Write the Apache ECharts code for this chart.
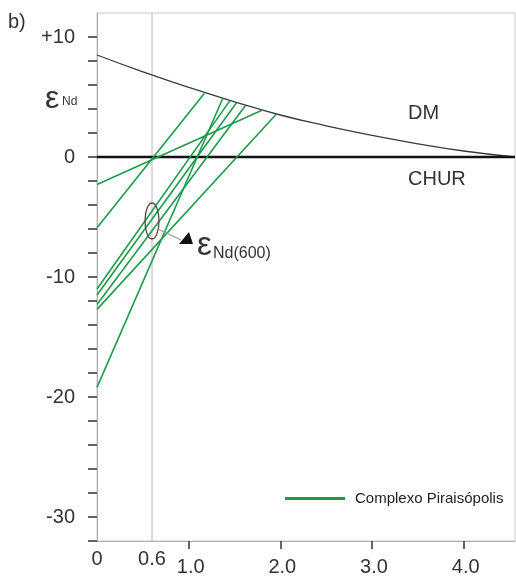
<!DOCTYPE html>
<html>
<head>
<meta charset="utf-8">
<script src="https://cdn.jsdelivr.net/npm/echarts@6/dist/echarts.min.js"></script>
<style>
  html, body { margin: 0; padding: 0; background: #fff; }
  #main { width: 516px; height: 577px; }
</style>
</head>
<body>
<div id="main"></div>
<script>
    // 模式年龄图 (Ga vs εNd)
    var dmAge = [0, 0.5, 1.0, 1.5, 2.0, 2.5, 3.0, 3.5, 4.0, 4.56];
    var dmEps = [8.5, 7.1, 5.8, 4.6, 3.5, 2.6, 1.8, 1.1, 0.5, 0.0];

    // 每个样品: 现今 εNd 与 DM 上的 TDM 点
    var sampleEpsNow = [-2.3, -5.9, -19.2, -11.0, -11.5, -12.3, -12.7];
    var sampleTdm = [1.80, 1.17, 1.37, 1.45, 1.52, 1.62, 1.96];
    var sampleEpsTdm = [3.9, 5.3, 4.85, 4.7, 4.5, 4.3, 3.6];

    var churAge = [0, 4.56];
    var churEps = [0, 0];
    var refAge = 0.6;

    var xLabels = [0, 0.6, 1, 2, 3, 4];
    var xTicks = [1, 2, 3, 4];
    var yLabels = [10, 0, -10, -20, -30];
    var yTicks = [-32, -30, -28, -26, -24, -22, -20, -18, -16, -14, -12, -10, -8, -6, -4, -2, 0, 2, 4, 6, 8, 10];

    var legendName = 'Complexo Piraisópolis';
    var green = '#1e9a4c';
    var font = '"Liberation Sans", Arial, sans-serif';

    var myChart = echarts.init(document.getElementById('main'));

    function zip(a, b) {
        var out = [];
        for (var i = 0; i < a.length; i++) out.push([a[i], b[i]]);
        return out;
    }

    var series = [];
    // 0.6 Ga 参考线
    series.push({
        name: 'ref', type: 'line', symbol: 'none', silent: true,
        data: [[refAge, -32], [refAge, 12]],
        lineStyle: { color: '#b8b8b8', width: 1 }, z: 1
    });
    series.push({
        name: 'DM', type: 'line', symbol: 'none', smooth: true,
        data: zip(dmAge, dmEps),
        lineStyle: { color: '#3a3a3a', width: 1.3 }, z: 3
    });
    series.push({
        name: 'CHUR', type: 'line', symbol: 'none',
        data: zip(churAge, churEps),
        lineStyle: { color: '#111', width: 2.5 }, z: 4
    });
    for (var i = 0; i < sampleEpsNow.length; i++) {
        series.push({
            name: legendName, type: 'line', symbol: 'none',
            data: [[0, sampleEpsNow[i]], [sampleTdm[i], sampleEpsTdm[i]]],
            lineStyle: { color: green, width: 1.6 },
            itemStyle: { color: green }, z: 5
        });
    }

    var option = {
        animation: false,
        textStyle: { fontFamily: font },
        grid: {
            left: 97, top: 13, right: 1, bottom: 34,
            show: true, borderColor: '#c8c8c8', borderWidth: 1
        },
        legend: {
            data: [legendName],
            left: 280, top: 486,
            icon: 'rect', itemWidth: 60, itemHeight: 3,
            textStyle: { fontSize: 15, color: '#222', fontFamily: font, padding: [0, 0, 0, 5] }
        },
        xAxis: {
            type: 'value', min: 0, max: 4.56,
            splitLine: { show: false },
            axisLine: { show: true, onZero: false, lineStyle: { color: '#b0b0b0', width: 1 } },
            axisTick: {
                show: true, customValues: xTicks, length: 8,
                lineStyle: { color: '#333', width: 1.5 }
            },
            axisLabel: {
                customValues: xLabels, margin: 8,
                color: '#333', fontSize: 20, fontFamily: font,
                formatter: function (v) {
                    if (v === 0) return '{a|0}';
                    if (v < 1) return '{a|' + v.toFixed(1) + '}';
                    return '{b|' + v.toFixed(1) + '}';
                },
                rich: {
                    a: { fontSize: 20, color: '#333', fontFamily: font },
                    b: { fontSize: 20, color: '#333', fontFamily: font, padding: [8, 0, 0, 4] }
                }
            }
        },
        yAxis: {
            type: 'value', min: -32, max: 12,
            splitLine: { show: false },
            axisLine: { show: true, onZero: false, lineStyle: { color: '#b0b0b0', width: 1 } },
            axisTick: {
                show: true, customValues: yTicks, length: 9,
                lineStyle: { color: '#333', width: 1.5 }
            },
            axisLabel: {
                customValues: yLabels, margin: 22,
                color: '#333', fontSize: 20, fontFamily: font,
                formatter: function (v) { return v > 0 ? '+' + v : String(v); }
            }
        },
        graphic: [
            { type: 'text', left: 8, top: 12, style: { text: 'b)', font: '20px ' + font, fill: '#333' } },
            { type: 'text', left: 45, top: 83, style: { text: 'ε', font: '32px ' + font, fill: '#333' } },
            { type: 'text', left: 62, top: 96, style: { text: 'Nd', font: '12px ' + font, fill: '#333' } },
            { type: 'text', left: 408, top: 103, style: { text: 'DM', font: '20px ' + font, fill: '#333' } },
            { type: 'text', left: 408, top: 169, style: { text: 'CHUR', font: '20px ' + font, fill: '#333' } },
            {
                type: 'ellipse', shape: { cx: 152, cy: 221, rx: 7, ry: 18 },
                style: { fill: 'none', stroke: '#5a4848', lineWidth: 1.3 }, z: 10
            },
            {
                type: 'line', shape: { x1: 158, y1: 229, x2: 181, y2: 240 },
                style: { stroke: '#999', lineWidth: 1.2 }, z: 10
            },
            {
                type: 'polygon', shape: { points: [[179, 244], [193, 244], [189, 232]] },
                style: { fill: '#111' }, z: 10
            },
            { type: 'text', left: 197, top: 229, style: { text: 'ε', font: '33px ' + font, fill: '#333' } },
            { type: 'text', left: 213, top: 246, style: { text: 'Nd(600)', font: '16px ' + font, fill: '#333' } }
        ],
        series: series
    };

    myChart.setOption(option);
</script>
</body>
</html>
